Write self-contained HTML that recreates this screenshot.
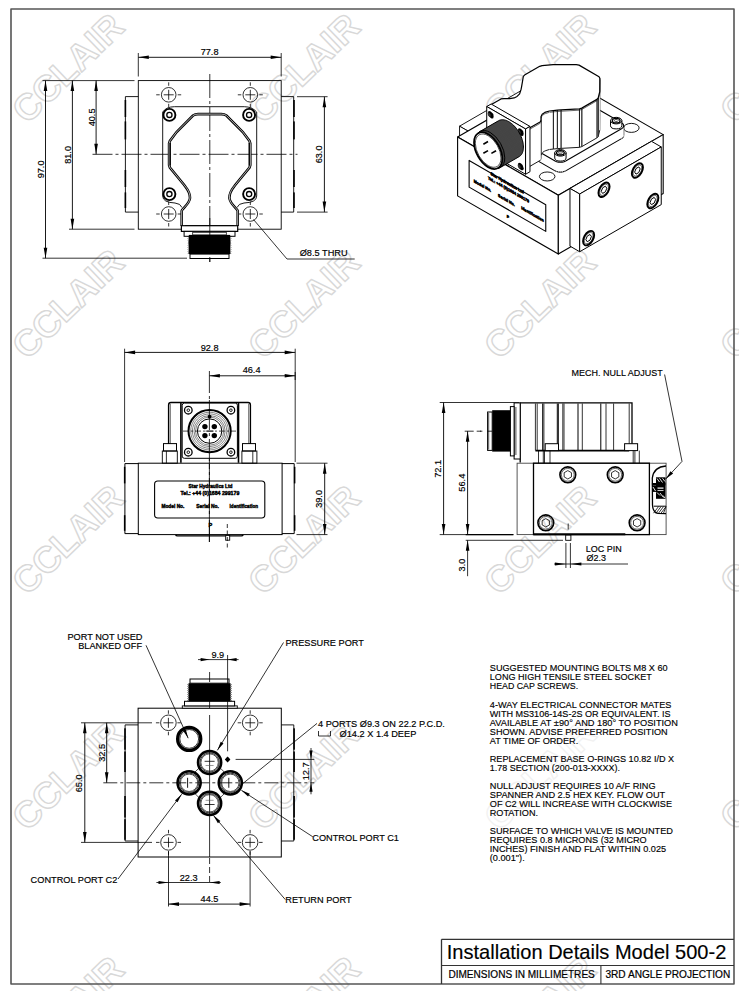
<!DOCTYPE html>
<html><head><meta charset="utf-8"><style>
html,body{margin:0;padding:0;background:#fff;}
svg{display:block;}
text{font-family:"Liberation Sans",sans-serif;}
</style></head><body>
<svg width="739" height="991" viewBox="0 0 739 991">
<defs><pattern id="knurl" width="1.7" height="1.7" patternUnits="userSpaceOnUse" patternTransform="rotate(30)"><rect width="1.7" height="1.7" fill="#0a0a0a"/><circle cx="0.85" cy="0.85" r="0.55" fill="#b0b0b0"/></pattern></defs>
<rect width="739" height="991" fill="#fff"/>
<text x="67.5" y="80.8" font-size="36.5" font-weight="bold" text-anchor="middle" fill="none" stroke="#d8d8d8" stroke-width="1.4" stroke-linejoin="round" transform="rotate(-44 67.5 67.8)">CCLAIR</text>
<text x="67.5" y="316.5" font-size="36.5" font-weight="bold" text-anchor="middle" fill="none" stroke="#d8d8d8" stroke-width="1.4" stroke-linejoin="round" transform="rotate(-44 67.5 303.5)">CCLAIR</text>
<text x="67.5" y="552.2" font-size="36.5" font-weight="bold" text-anchor="middle" fill="none" stroke="#d8d8d8" stroke-width="1.4" stroke-linejoin="round" transform="rotate(-44 67.5 539.2)">CCLAIR</text>
<text x="67.5" y="787.9" font-size="36.5" font-weight="bold" text-anchor="middle" fill="none" stroke="#d8d8d8" stroke-width="1.4" stroke-linejoin="round" transform="rotate(-44 67.5 774.9)">CCLAIR</text>
<text x="67.5" y="1023.6" font-size="36.5" font-weight="bold" text-anchor="middle" fill="none" stroke="#d8d8d8" stroke-width="1.4" stroke-linejoin="round" transform="rotate(-44 67.5 1010.6)">CCLAIR</text>
<text x="303.5" y="80.8" font-size="36.5" font-weight="bold" text-anchor="middle" fill="none" stroke="#d8d8d8" stroke-width="1.4" stroke-linejoin="round" transform="rotate(-44 303.5 67.8)">CCLAIR</text>
<text x="303.5" y="316.5" font-size="36.5" font-weight="bold" text-anchor="middle" fill="none" stroke="#d8d8d8" stroke-width="1.4" stroke-linejoin="round" transform="rotate(-44 303.5 303.5)">CCLAIR</text>
<text x="303.5" y="552.2" font-size="36.5" font-weight="bold" text-anchor="middle" fill="none" stroke="#d8d8d8" stroke-width="1.4" stroke-linejoin="round" transform="rotate(-44 303.5 539.2)">CCLAIR</text>
<text x="303.5" y="787.9" font-size="36.5" font-weight="bold" text-anchor="middle" fill="none" stroke="#d8d8d8" stroke-width="1.4" stroke-linejoin="round" transform="rotate(-44 303.5 774.9)">CCLAIR</text>
<text x="303.5" y="1023.6" font-size="36.5" font-weight="bold" text-anchor="middle" fill="none" stroke="#d8d8d8" stroke-width="1.4" stroke-linejoin="round" transform="rotate(-44 303.5 1010.6)">CCLAIR</text>
<text x="539.5" y="80.8" font-size="36.5" font-weight="bold" text-anchor="middle" fill="none" stroke="#d8d8d8" stroke-width="1.4" stroke-linejoin="round" transform="rotate(-44 539.5 67.8)">CCLAIR</text>
<text x="539.5" y="316.5" font-size="36.5" font-weight="bold" text-anchor="middle" fill="none" stroke="#d8d8d8" stroke-width="1.4" stroke-linejoin="round" transform="rotate(-44 539.5 303.5)">CCLAIR</text>
<text x="539.5" y="552.2" font-size="36.5" font-weight="bold" text-anchor="middle" fill="none" stroke="#d8d8d8" stroke-width="1.4" stroke-linejoin="round" transform="rotate(-44 539.5 539.2)">CCLAIR</text>
<text x="539.5" y="787.9" font-size="36.5" font-weight="bold" text-anchor="middle" fill="none" stroke="#d8d8d8" stroke-width="1.4" stroke-linejoin="round" transform="rotate(-44 539.5 774.9)">CCLAIR</text>
<text x="539.5" y="1023.6" font-size="36.5" font-weight="bold" text-anchor="middle" fill="none" stroke="#d8d8d8" stroke-width="1.4" stroke-linejoin="round" transform="rotate(-44 539.5 1010.6)">CCLAIR</text>
<text x="775.5" y="80.8" font-size="36.5" font-weight="bold" text-anchor="middle" fill="none" stroke="#d8d8d8" stroke-width="1.4" stroke-linejoin="round" transform="rotate(-44 775.5 67.8)">CCLAIR</text>
<text x="775.5" y="316.5" font-size="36.5" font-weight="bold" text-anchor="middle" fill="none" stroke="#d8d8d8" stroke-width="1.4" stroke-linejoin="round" transform="rotate(-44 775.5 303.5)">CCLAIR</text>
<text x="775.5" y="552.2" font-size="36.5" font-weight="bold" text-anchor="middle" fill="none" stroke="#d8d8d8" stroke-width="1.4" stroke-linejoin="round" transform="rotate(-44 775.5 539.2)">CCLAIR</text>
<text x="775.5" y="787.9" font-size="36.5" font-weight="bold" text-anchor="middle" fill="none" stroke="#d8d8d8" stroke-width="1.4" stroke-linejoin="round" transform="rotate(-44 775.5 774.9)">CCLAIR</text>
<text x="775.5" y="1023.6" font-size="36.5" font-weight="bold" text-anchor="middle" fill="none" stroke="#d8d8d8" stroke-width="1.4" stroke-linejoin="round" transform="rotate(-44 775.5 1010.6)">CCLAIR</text>
<rect x="480" y="655" width="212" height="215" fill="#fff" fill-opacity="0.65"/>
<polygon points="11,9 734,9 734,984 11,984" fill="none" stroke="#555" stroke-width="1.6" stroke-linejoin="round" />
<line x1="441.5" y1="939.3" x2="734" y2="939.3" stroke="#333" stroke-width="1.3" />
<line x1="441.5" y1="939.3" x2="441.5" y2="984" stroke="#333" stroke-width="1.3" />
<line x1="441.5" y1="965.5" x2="734" y2="965.5" stroke="#333" stroke-width="1.1" />
<line x1="600.9" y1="965.5" x2="600.9" y2="984" stroke="#333" stroke-width="1.1" />
<text x="0" y="0" font-size="20.2" text-anchor="start" font-weight="normal" fill="#000" transform="translate(446.8 958.6)"  textLength="279.5" lengthAdjust="spacingAndGlyphs" stroke="#000" stroke-width="0.15">Installation Details Model 500-2</text>
<text x="0" y="0" font-size="10" text-anchor="start" font-weight="normal" fill="#000" transform="translate(448.4 978)"  textLength="146.4" lengthAdjust="spacingAndGlyphs" stroke="#000" stroke-width="0.2">DIMENSIONS IN MILLIMETRES</text>
<text x="0" y="0" font-size="10" text-anchor="start" font-weight="normal" fill="#000" transform="translate(605.4 978)"  textLength="124.8" lengthAdjust="spacingAndGlyphs" stroke="#000" stroke-width="0.2">3RD ANGLE PROJECTION</text>
<line x1="138.3" y1="53" x2="138.3" y2="76.5" stroke="#000" stroke-width="0.8" />
<line x1="281.2" y1="53" x2="281.2" y2="76.5" stroke="#000" stroke-width="0.8" />
<line x1="138.3" y1="57.3" x2="281.2" y2="57.3" stroke="#000" stroke-width="0.9" />
<polygon points="138.3,57.3 148.8,55.5 148.8,59.1" fill="#000"/>
<polygon points="281.2,57.3 270.7,59.1 270.7,55.5" fill="#000"/>
<text x="0" y="0" font-size="9.89" text-anchor="middle" font-weight="normal" fill="#000" transform="translate(209.6 55) scale(0.93 1)"  stroke="#000" stroke-width="0.18">77.8</text>
<line x1="42.5" y1="80.6" x2="134.5" y2="80.6" stroke="#000" stroke-width="0.8" />
<line x1="69" y1="229.2" x2="134.5" y2="229.2" stroke="#000" stroke-width="0.8" />
<line x1="42.5" y1="258.2" x2="187" y2="258.2" stroke="#000" stroke-width="0.8" />
<line x1="45.5" y1="80.6" x2="45.5" y2="258.2" stroke="#000" stroke-width="0.9" />
<polygon points="45.5,80.6 47.3,91.1 43.7,91.1" fill="#000"/>
<polygon points="45.5,258.2 43.7,247.7 47.3,247.7" fill="#000"/>
<text x="0" y="0" font-size="9.89" text-anchor="middle" font-weight="normal" fill="#000" transform="translate(44.1 169.4) rotate(-90) scale(0.93 1)"  stroke="#000" stroke-width="0.18">97.0</text>
<line x1="72.4" y1="80.6" x2="72.4" y2="229.2" stroke="#000" stroke-width="0.9" />
<polygon points="72.4,80.6 74.2,91.1 70.6,91.1" fill="#000"/>
<polygon points="72.4,229.2 70.6,218.7 74.2,218.7" fill="#000"/>
<text x="0" y="0" font-size="9.89" text-anchor="middle" font-weight="normal" fill="#000" transform="translate(71 154.9) rotate(-90) scale(0.93 1)"  stroke="#000" stroke-width="0.18">81.0</text>
<line x1="96.1" y1="80.6" x2="96.1" y2="154.3" stroke="#000" stroke-width="0.9" />
<polygon points="96.1,80.6 97.9,91.1 94.3,91.1" fill="#000"/>
<polygon points="96.1,154.3 94.3,143.8 97.9,143.8" fill="#000"/>
<text x="0" y="0" font-size="9.89" text-anchor="middle" font-weight="normal" fill="#000" transform="translate(94.8 117.4) rotate(-90) scale(0.93 1)"  stroke="#000" stroke-width="0.18">40.5</text>
<line x1="297" y1="96.7" x2="327.6" y2="96.7" stroke="#000" stroke-width="0.8" />
<line x1="297" y1="212.1" x2="327.6" y2="212.1" stroke="#000" stroke-width="0.8" />
<line x1="324.4" y1="96.7" x2="324.4" y2="212.1" stroke="#000" stroke-width="0.9" />
<polygon points="324.4,96.7 326.2,107.2 322.6,107.2" fill="#000"/>
<polygon points="324.4,212.1 322.6,201.6 326.2,201.6" fill="#000"/>
<text x="0" y="0" font-size="9.89" text-anchor="middle" font-weight="normal" fill="#000" transform="translate(321.5 154.4) rotate(-90) scale(0.93 1)"  stroke="#000" stroke-width="0.18">63.0</text>
<rect x="138.3" y="80.6" width="142.9" height="148.6" rx="0" fill="none" stroke="#000" stroke-width="0.9" />
<polyline points="138.3,96.6 125.4,96.6 125.4,212.1 138.3,212.1" fill="none" stroke="#000" stroke-width="0.9" stroke-linejoin="round" />
<polyline points="281.2,96.6 293.7,96.6 293.7,212.1 281.2,212.1" fill="none" stroke="#000" stroke-width="0.9" stroke-linejoin="round" />
<rect x="124.6" y="100" width="1.6" height="17" fill="#000"/>
<rect x="293.2" y="100" width="1.6" height="17" fill="#000"/>
<rect x="124.6" y="121.4" width="1.6" height="18" fill="#000"/>
<rect x="293.2" y="121.4" width="1.6" height="18" fill="#000"/>
<rect x="124.6" y="170" width="1.6" height="17" fill="#000"/>
<rect x="293.2" y="170" width="1.6" height="17" fill="#000"/>
<rect x="124.6" y="192.4" width="1.6" height="15.6" fill="#000"/>
<rect x="293.2" y="192.4" width="1.6" height="15.6" fill="#000"/>
<line x1="92.5" y1="154.3" x2="297.5" y2="154.3" stroke="#000" stroke-width="0.8" stroke-dasharray="20,3,3,3" />
<line x1="209.8" y1="74" x2="209.8" y2="262" stroke="#000" stroke-width="0.8" stroke-dasharray="24,3,3,3" />
<circle cx="168.7" cy="94.8" r="7.3" fill="none" stroke="#000" stroke-width="0.8"/>
<line x1="163.7" y1="94.8" x2="173.7" y2="94.8" stroke="#000" stroke-width="0.8" />
<line x1="168.7" y1="89.8" x2="168.7" y2="99.8" stroke="#000" stroke-width="0.8" />
<line x1="156.2" y1="94.8" x2="159.7" y2="94.8" stroke="#000" stroke-width="0.8" />
<line x1="177.7" y1="94.8" x2="181.2" y2="94.8" stroke="#000" stroke-width="0.8" />
<line x1="168.7" y1="82.3" x2="168.7" y2="85.8" stroke="#000" stroke-width="0.8" />
<line x1="168.7" y1="103.8" x2="168.7" y2="107.3" stroke="#000" stroke-width="0.8" />
<circle cx="168.7" cy="214" r="7.3" fill="none" stroke="#000" stroke-width="0.8"/>
<line x1="163.7" y1="214" x2="173.7" y2="214" stroke="#000" stroke-width="0.8" />
<line x1="168.7" y1="209" x2="168.7" y2="219" stroke="#000" stroke-width="0.8" />
<line x1="156.2" y1="214" x2="159.7" y2="214" stroke="#000" stroke-width="0.8" />
<line x1="177.7" y1="214" x2="181.2" y2="214" stroke="#000" stroke-width="0.8" />
<line x1="168.7" y1="201.5" x2="168.7" y2="205" stroke="#000" stroke-width="0.8" />
<line x1="168.7" y1="223" x2="168.7" y2="226.5" stroke="#000" stroke-width="0.8" />
<circle cx="250.3" cy="94.8" r="7.3" fill="none" stroke="#000" stroke-width="0.8"/>
<line x1="245.3" y1="94.8" x2="255.3" y2="94.8" stroke="#000" stroke-width="0.8" />
<line x1="250.3" y1="89.8" x2="250.3" y2="99.8" stroke="#000" stroke-width="0.8" />
<line x1="237.8" y1="94.8" x2="241.3" y2="94.8" stroke="#000" stroke-width="0.8" />
<line x1="259.3" y1="94.8" x2="262.8" y2="94.8" stroke="#000" stroke-width="0.8" />
<line x1="250.3" y1="82.3" x2="250.3" y2="85.8" stroke="#000" stroke-width="0.8" />
<line x1="250.3" y1="103.8" x2="250.3" y2="107.3" stroke="#000" stroke-width="0.8" />
<circle cx="250.3" cy="214" r="7.3" fill="none" stroke="#000" stroke-width="0.8"/>
<line x1="245.3" y1="214" x2="255.3" y2="214" stroke="#000" stroke-width="0.8" />
<line x1="250.3" y1="209" x2="250.3" y2="219" stroke="#000" stroke-width="0.8" />
<line x1="237.8" y1="214" x2="241.3" y2="214" stroke="#000" stroke-width="0.8" />
<line x1="259.3" y1="214" x2="262.8" y2="214" stroke="#000" stroke-width="0.8" />
<line x1="250.3" y1="201.5" x2="250.3" y2="205" stroke="#000" stroke-width="0.8" />
<line x1="250.3" y1="223" x2="250.3" y2="226.5" stroke="#000" stroke-width="0.8" />
<path d="M 174.4 106.7 L 244.3 106.7 Q 252 106.7 256.7 112 L 256.7 196 Q 256.7 202.5 244 203 Q 238.5 203.5 237 207.5 M 174.4 106.7 Q 166.5 106.7 162.7 112 L 162.7 196 Q 162.7 202.5 175 203 Q 180.5 203.5 182 207.5" fill="none" stroke="#000" stroke-width="0.9" />
<circle cx="169.4" cy="114.9" r="6" fill="none" stroke="#000" stroke-width="1.9"/>
<circle cx="169.4" cy="114.9" r="2.6" fill="none" stroke="#000" stroke-width="1.3"/>
<circle cx="169.4" cy="194.1" r="6" fill="none" stroke="#000" stroke-width="1.9"/>
<circle cx="169.4" cy="194.1" r="2.6" fill="none" stroke="#000" stroke-width="1.3"/>
<circle cx="249.1" cy="114.9" r="6" fill="none" stroke="#000" stroke-width="1.9"/>
<circle cx="249.1" cy="114.9" r="2.6" fill="none" stroke="#000" stroke-width="1.3"/>
<circle cx="249.1" cy="194.1" r="6" fill="none" stroke="#000" stroke-width="1.9"/>
<circle cx="249.1" cy="194.1" r="2.6" fill="none" stroke="#000" stroke-width="1.3"/>
<path d="M 181.7 226 L 181.7 211 C 181.7 209 189.5 204 190 198 C 190.3 192 186 187.5 184 184.8 L 169.9 167.5 L 169.1 165 L 169.1 143.5 L 169.9 140.9 L 176.6 132 L 193 115.5 Q 195 114.1 198 114.1 L 221.4 114.1 Q 224.4 114.1 226.4 115.5 L 242.8 132 L 249.5 140.9 L 250.3 143.5 L 250.3 165 L 249.5 167.5 L 235.4 184.8 C 233.4 187.5 229.1 192 229.4 198 C 229.9 204 237.7 209 237.7 211 L 237.7 226" fill="none" stroke="#000" stroke-width="2.6" />
<path d="M 181.7 226 L 181.7 211 C 181.7 209 189.5 204 190 198 C 190.3 192 186 187.5 184 184.8 L 169.9 167.5 L 169.1 165 L 169.1 143.5 L 169.9 140.9 L 176.6 132 L 193 115.5 Q 195 114.1 198 114.1 L 221.4 114.1 Q 224.4 114.1 226.4 115.5 L 242.8 132 L 249.5 140.9 L 250.3 143.5 L 250.3 165 L 249.5 167.5 L 235.4 184.8 C 233.4 187.5 229.1 192 229.4 198 C 229.9 204 237.7 209 237.7 211 L 237.7 226" fill="none" stroke="#fff" stroke-width="0.7" />
<line x1="170.3" y1="143" x2="170.3" y2="165.5" stroke="#000" stroke-width="1.2" />
<line x1="249.1" y1="143" x2="249.1" y2="165.5" stroke="#000" stroke-width="1.2" />
<line x1="185.2" y1="225.7" x2="233.9" y2="225.7" stroke="#000" stroke-width="1.6" />
<rect x="181.4" y="225.7" width="56.3" height="5.7" rx="0" fill="#fff" stroke="#000" stroke-width="1.2" />
<rect x="184.1" y="231.4" width="50.9" height="4.9" rx="0" fill="#fff" stroke="#000" stroke-width="1.0" />
<rect x="192.7" y="232.3" width="33.6" height="2.6" rx="0" fill="none" stroke="#000" stroke-width="0.7" />
<rect x="188.9" y="234.9" width="41.2" height="19.2" fill="#000"/>
<path d="M 188.9 235.6 l -0.8 0.9 l 0.8 0.9 M 230.1 235.6 l 0.8 0.9 l -0.8 0.9" stroke="#000" stroke-width="0.6" fill="none"/>
<path d="M 188.9 237.45 l -0.8 0.9 l 0.8 0.9 M 230.1 237.45 l 0.8 0.9 l -0.8 0.9" stroke="#000" stroke-width="0.6" fill="none"/>
<path d="M 188.9 239.3 l -0.8 0.9 l 0.8 0.9 M 230.1 239.3 l 0.8 0.9 l -0.8 0.9" stroke="#000" stroke-width="0.6" fill="none"/>
<path d="M 188.9 241.15 l -0.8 0.9 l 0.8 0.9 M 230.1 241.15 l 0.8 0.9 l -0.8 0.9" stroke="#000" stroke-width="0.6" fill="none"/>
<path d="M 188.9 243 l -0.8 0.9 l 0.8 0.9 M 230.1 243 l 0.8 0.9 l -0.8 0.9" stroke="#000" stroke-width="0.6" fill="none"/>
<path d="M 188.9 244.85 l -0.8 0.9 l 0.8 0.9 M 230.1 244.85 l 0.8 0.9 l -0.8 0.9" stroke="#000" stroke-width="0.6" fill="none"/>
<path d="M 188.9 246.7 l -0.8 0.9 l 0.8 0.9 M 230.1 246.7 l 0.8 0.9 l -0.8 0.9" stroke="#000" stroke-width="0.6" fill="none"/>
<path d="M 188.9 248.55 l -0.8 0.9 l 0.8 0.9 M 230.1 248.55 l 0.8 0.9 l -0.8 0.9" stroke="#000" stroke-width="0.6" fill="none"/>
<path d="M 188.9 250.4 l -0.8 0.9 l 0.8 0.9 M 230.1 250.4 l 0.8 0.9 l -0.8 0.9" stroke="#000" stroke-width="0.6" fill="none"/>
<path d="M 188.9 252.25 l -0.8 0.9 l 0.8 0.9 M 230.1 252.25 l 0.8 0.9 l -0.8 0.9" stroke="#000" stroke-width="0.6" fill="none"/>
<rect x="190" y="254.1" width="39" height="4.4" rx="0" fill="#fff" stroke="#000" stroke-width="1.0" />
<line x1="209.8" y1="218" x2="209.8" y2="262" stroke="#000" stroke-width="0.8" stroke-dasharray="30,3,3,3" />
<line x1="253.5" y1="219.5" x2="287" y2="259" stroke="#000" stroke-width="0.8" />
<line x1="287" y1="259" x2="354.7" y2="259" stroke="#000" stroke-width="0.8" />
<text x="0" y="0" font-size="9.89" text-anchor="start" font-weight="normal" fill="#000" transform="translate(299.7 256.4) scale(0.93 1)"  stroke="#000" stroke-width="0.18">Ø8.5 THRU</text>
<line x1="124.6" y1="348.7" x2="124.6" y2="462" stroke="#000" stroke-width="0.8" />
<line x1="295.2" y1="348.7" x2="295.2" y2="462" stroke="#000" stroke-width="0.8" />
<line x1="124.6" y1="352.4" x2="295.2" y2="352.4" stroke="#000" stroke-width="0.9" />
<polygon points="124.6,352.4 135.1,350.6 135.1,354.2" fill="#000"/>
<polygon points="295.2,352.4 284.7,354.2 284.7,350.6" fill="#000"/>
<text x="0" y="0" font-size="9.89" text-anchor="middle" font-weight="normal" fill="#000" transform="translate(209.6 350.6) scale(0.93 1)"  stroke="#000" stroke-width="0.18">92.8</text>
<line x1="295.2" y1="372" x2="295.2" y2="380" stroke="#000" stroke-width="0.8" />
<line x1="209.4" y1="375.8" x2="295.2" y2="375.8" stroke="#000" stroke-width="0.9" />
<polygon points="209.4,375.8 219.9,374 219.9,377.6" fill="#000"/>
<polygon points="295.2,375.8 284.7,377.6 284.7,374" fill="#000"/>
<text x="0" y="0" font-size="9.89" text-anchor="middle" font-weight="normal" fill="#000" transform="translate(251.6 373.4) scale(0.93 1)"  stroke="#000" stroke-width="0.18">46.4</text>
<line x1="209.4" y1="371" x2="209.4" y2="542" stroke="#000" stroke-width="0.8" stroke-dasharray="22,3,3,3" />
<line x1="296.5" y1="463.2" x2="327.5" y2="463.2" stroke="#000" stroke-width="0.8" />
<line x1="296.5" y1="534.6" x2="327.5" y2="534.6" stroke="#000" stroke-width="0.8" />
<line x1="324.7" y1="463.2" x2="324.7" y2="534.6" stroke="#000" stroke-width="0.9" />
<polygon points="324.7,463.2 326.5,473.7 322.9,473.7" fill="#000"/>
<polygon points="324.7,534.6 322.9,524.1 326.5,524.1" fill="#000"/>
<text x="0" y="0" font-size="9.89" text-anchor="middle" font-weight="normal" fill="#000" transform="translate(321.6 498.9) rotate(-90) scale(0.93 1)"  stroke="#000" stroke-width="0.18">39.0</text>
<rect x="138.3" y="463.2" width="143.8" height="71.4" rx="0" fill="none" stroke="#000" stroke-width="1.0" />
<polyline points="138.3,463.6 124.9,463.6 124.9,533.6 138.3,533.6" fill="none" stroke="#000" stroke-width="1.0" stroke-linejoin="round" />
<polyline points="281.9,463.6 294.2,463.6 294.2,533.6 281.9,533.6" fill="none" stroke="#000" stroke-width="1.0" stroke-linejoin="round" />
<rect x="123.9" y="466.8" width="1.5" height="16.6" fill="#000"/>
<rect x="293.9" y="466.8" width="1.5" height="16.6" fill="#000"/>
<rect x="123.9" y="515.2" width="1.5" height="15.6" fill="#000"/>
<rect x="293.9" y="515.2" width="1.5" height="15.6" fill="#000"/>
<rect x="154.6" y="481" width="110.2" height="37" rx="3.2" fill="none" stroke="#000" stroke-width="1.1" />
<text x="0" y="0" font-size="5.6" text-anchor="start" font-weight="bold" fill="#000" transform="translate(188.6 488)"  textLength="43.9" lengthAdjust="spacingAndGlyphs" stroke="#000" stroke-width="0.45">Star Hydraulics Ltd</text>
<text x="0" y="0" font-size="5.6" text-anchor="start" font-weight="bold" fill="#000" transform="translate(180.5 495.2)"  textLength="58.8" lengthAdjust="spacingAndGlyphs" stroke="#000" stroke-width="0.45">Tel.: +44 (0)1684 299179</text>
<text x="0" y="0" font-size="5.6" text-anchor="start" font-weight="bold" fill="#000" transform="translate(161.4 507.6)"  textLength="23" lengthAdjust="spacingAndGlyphs" stroke="#000" stroke-width="0.45">Model No.</text>
<text x="0" y="0" font-size="5.6" text-anchor="start" font-weight="bold" fill="#000" transform="translate(196.3 507.6)"  textLength="22.7" lengthAdjust="spacingAndGlyphs" stroke="#000" stroke-width="0.45">Serial No.</text>
<text x="0" y="0" font-size="5.6" text-anchor="start" font-weight="bold" fill="#000" transform="translate(229.6 507.6)"  textLength="28.4" lengthAdjust="spacingAndGlyphs" stroke="#000" stroke-width="0.45">Identification</text>
<text x="0" y="0" font-size="5.6" text-anchor="start" font-weight="bold" fill="#000" transform="translate(208.4 527)"  stroke="#000" stroke-width="0.4">P</text>
<path d="M 175.6 534.8 Q 176 535.9 177.5 535.9 L 241.3 535.9 Q 242.8 535.9 243.2 534.8" fill="none" stroke="#000" stroke-width="1.3" />
<rect x="225.7" y="535.4" width="4" height="4.8" rx="0" fill="#fff" stroke="#000" stroke-width="0.9" />
<line x1="227.3" y1="524" x2="227.3" y2="548" stroke="#000" stroke-width="0.8" stroke-dasharray="4,2.5" />
<path d="M 168.6 444 L 168.6 405 Q 168.6 402.5 171 402.5 L 248 402.5 Q 250.4 402.5 250.4 405 L 250.4 444" fill="none" stroke="#000" stroke-width="1.4" />
<line x1="170.4" y1="404" x2="170.4" y2="443.6" stroke="#555" stroke-width="0.8" />
<line x1="248.6" y1="404" x2="248.6" y2="443.6" stroke="#555" stroke-width="0.8" />
<rect x="182.2" y="403.1" width="55.2" height="55.2" rx="2.2" fill="#fff" stroke="#000" stroke-width="1.0" />
<line x1="180.9" y1="403" x2="180.9" y2="462.8" stroke="#000" stroke-width="1.6" />
<line x1="238.5" y1="403" x2="238.5" y2="462.8" stroke="#000" stroke-width="1.6" />
<rect x="163.5" y="443.6" width="13" height="7.4" rx="0" fill="none" stroke="#000" stroke-width="1.0" />
<rect x="242.5" y="443.6" width="13" height="7.4" rx="0" fill="none" stroke="#000" stroke-width="1.0" />
<rect x="162.3" y="451" width="15" height="12.2" rx="0" fill="none" stroke="#000" stroke-width="0.9" />
<line x1="166.4" y1="451" x2="166.4" y2="463.2" stroke="#000" stroke-width="0.8" />
<rect x="241.9" y="451" width="15" height="12.2" rx="0" fill="none" stroke="#000" stroke-width="0.9" />
<line x1="252.8" y1="451" x2="252.8" y2="463.2" stroke="#000" stroke-width="0.8" />
<circle cx="188.3" cy="410.2" r="3.8" fill="none" stroke="#000" stroke-width="1.3"/>
<circle cx="188.3" cy="410.2" r="1.3" fill="none" stroke="#000" stroke-width="0.9"/>
<circle cx="188.3" cy="452.2" r="3.8" fill="none" stroke="#000" stroke-width="1.3"/>
<circle cx="188.3" cy="452.2" r="1.3" fill="none" stroke="#000" stroke-width="0.9"/>
<circle cx="230.9" cy="410.2" r="3.8" fill="none" stroke="#000" stroke-width="1.3"/>
<circle cx="230.9" cy="410.2" r="1.3" fill="none" stroke="#000" stroke-width="0.9"/>
<circle cx="230.9" cy="452.2" r="3.8" fill="none" stroke="#000" stroke-width="1.3"/>
<circle cx="230.9" cy="452.2" r="1.3" fill="none" stroke="#000" stroke-width="0.9"/>
<circle cx="209.6" cy="431.1" r="21.1" fill="none" stroke="#000" stroke-width="2.0"/>
<circle cx="209.6" cy="431.1" r="18.9" fill="none" stroke="#333" stroke-width="0.6"/>
<circle cx="209.6" cy="431.1" r="17.2" fill="none" stroke="#333" stroke-width="0.6"/>
<circle cx="209.6" cy="431.1" r="15.6" fill="none" stroke="#333" stroke-width="0.6"/>
<circle cx="209.6" cy="431.1" r="14.1" fill="none" stroke="#333" stroke-width="0.6"/>
<circle cx="209.6" cy="431.1" r="12.2" fill="#fff" stroke="#000" stroke-width="1.0"/>
<circle cx="204.9" cy="426.6" r="2.7" fill="#000" stroke="#000" stroke-width="0"/>
<circle cx="204.9" cy="435.6" r="2.7" fill="#000" stroke="#000" stroke-width="0"/>
<circle cx="214.3" cy="426.6" r="2.7" fill="#000" stroke="#000" stroke-width="0"/>
<circle cx="214.3" cy="435.6" r="2.7" fill="#000" stroke="#000" stroke-width="0"/>
<circle cx="209.6" cy="416.6" r="1.9" fill="#000" stroke="#000" stroke-width="0"/>
<line x1="183" y1="431.1" x2="236" y2="431.1" stroke="#000" stroke-width="0.7" stroke-dasharray="6,2,2,2" />
<line x1="205.6" y1="431.1" x2="213.6" y2="431.1" stroke="#000" stroke-width="0.8" />
<line x1="209.4" y1="400" x2="209.4" y2="542" stroke="#000" stroke-width="0.8" stroke-dasharray="30,3,3,3" />
<line x1="439.7" y1="402.5" x2="519" y2="402.5" stroke="#000" stroke-width="0.8" />
<line x1="464.7" y1="431.2" x2="481" y2="431.2" stroke="#000" stroke-width="0.8" stroke-dasharray="9,3" />
<line x1="439.7" y1="534.6" x2="513.4" y2="534.6" stroke="#000" stroke-width="0.8" />
<line x1="465.7" y1="534.6" x2="513.4" y2="534.6" stroke="#000" stroke-width="1.4" />
<line x1="465.7" y1="540.3" x2="563" y2="540.3" stroke="#000" stroke-width="0.8" />
<line x1="443.6" y1="402.5" x2="443.6" y2="534.6" stroke="#000" stroke-width="0.9" />
<polygon points="443.6,402.5 445.4,413 441.8,413" fill="#000"/>
<polygon points="443.6,534.6 441.8,524.1 445.4,524.1" fill="#000"/>
<text x="0" y="0" font-size="9.89" text-anchor="middle" font-weight="normal" fill="#000" transform="translate(441.1 468.9) rotate(-90) scale(0.93 1)"  stroke="#000" stroke-width="0.18">72.1</text>
<line x1="467.6" y1="431.2" x2="467.6" y2="534.6" stroke="#000" stroke-width="0.9" />
<polygon points="467.6,431.2 469.4,441.7 465.8,441.7" fill="#000"/>
<polygon points="467.6,534.6 465.8,524.1 469.4,524.1" fill="#000"/>
<text x="0" y="0" font-size="9.89" text-anchor="middle" font-weight="normal" fill="#000" transform="translate(465.3 482.7) rotate(-90) scale(0.93 1)"  stroke="#000" stroke-width="0.18">56.4</text>
<line x1="467.6" y1="540.3" x2="467.6" y2="576.2" stroke="#000" stroke-width="0.8" />
<polygon points="467.6,540.3 469.4,550.8 465.8,550.8" fill="#000"/>
<text x="0" y="0" font-size="9.89" text-anchor="middle" font-weight="normal" fill="#000" transform="translate(464.5 565) rotate(-90) scale(0.93 1)"  stroke="#000" stroke-width="0.18">3.0</text>
<rect x="565.7" y="534.9" width="5.2" height="5.4" rx="0" fill="#fff" stroke="#000" stroke-width="0.9" />
<line x1="565.9" y1="543" x2="565.9" y2="568" stroke="#000" stroke-width="0.8" />
<line x1="570.4" y1="543" x2="570.4" y2="568" stroke="#000" stroke-width="0.8" />
<line x1="554.2" y1="564" x2="628" y2="564" stroke="#000" stroke-width="0.8" />
<polygon points="565.9,564 554.9,565.6 554.9,562.4" fill="#000"/>
<polygon points="570.4,564 581.4,562.4 581.4,565.6" fill="#000"/>
<line x1="568.2" y1="523.5" x2="568.2" y2="529.5" stroke="#000" stroke-width="0.8" />
<text x="0" y="0" font-size="9.68" text-anchor="start" font-weight="normal" fill="#000" transform="translate(585.7 551.8) scale(0.93 1)"  stroke="#000" stroke-width="0.18">LOC PIN</text>
<text x="0" y="0" font-size="9.68" text-anchor="start" font-weight="normal" fill="#000" transform="translate(586.5 561.3) scale(0.93 1)"  stroke="#000" stroke-width="0.18">Ø2.3</text>
<rect x="517.1" y="463.2" width="149" height="71.4" rx="0" fill="none" stroke="#444" stroke-width="0.9" />
<rect x="533.5" y="463.2" width="115.9" height="71.4" rx="0" fill="none" stroke="#000" stroke-width="1.3" />
<line x1="533.5" y1="534.2" x2="625.3" y2="534.2" stroke="#000" stroke-width="2.0" />
<circle cx="567.8" cy="474.8" r="7.9" fill="none" stroke="#000" stroke-width="1.6"/>
<circle cx="567.8" cy="474.8" r="6.4" fill="none" stroke="#000" stroke-width="0.6"/>
<polygon points="571.44,476.9 567.8,479 564.16,476.9 564.16,472.7 567.8,470.6 571.44,472.7" fill="none" stroke="#000" stroke-width="0.8" stroke-linejoin="round" />
<circle cx="615.2" cy="474.8" r="7.9" fill="none" stroke="#000" stroke-width="1.6"/>
<circle cx="615.2" cy="474.8" r="6.4" fill="none" stroke="#000" stroke-width="0.6"/>
<polygon points="618.84,476.9 615.2,479 611.56,476.9 611.56,472.7 615.2,470.6 618.84,472.7" fill="none" stroke="#000" stroke-width="0.8" stroke-linejoin="round" />
<circle cx="545.8" cy="522.8" r="7.9" fill="none" stroke="#000" stroke-width="1.6"/>
<circle cx="545.8" cy="522.8" r="6.4" fill="none" stroke="#000" stroke-width="0.6"/>
<polygon points="549.44,524.9 545.8,527 542.16,524.9 542.16,520.7 545.8,518.6 549.44,520.7" fill="none" stroke="#000" stroke-width="0.8" stroke-linejoin="round" />
<circle cx="637.1" cy="522.8" r="7.9" fill="none" stroke="#000" stroke-width="1.6"/>
<circle cx="637.1" cy="522.8" r="6.4" fill="none" stroke="#000" stroke-width="0.6"/>
<polygon points="640.74,524.9 637.1,527 633.46,524.9 633.46,520.7 637.1,518.6 640.74,520.7" fill="none" stroke="#000" stroke-width="0.8" stroke-linejoin="round" />
<path d="M 666 466 C 659 466.5 653.5 469.5 652.3 478 L 652.5 505 C 652.8 510 654.5 512.8 658 513.4 L 666 513.6" fill="none" stroke="#000" stroke-width="1.3" />
<rect x="656" y="477.3" width="9.5" height="21.5" fill="#000"/>
<rect x="651.9" y="483" width="13.5" height="2.4" fill="#000"/>
<rect x="652.4" y="485.4" width="4" height="6.5" fill="#000"/>
<line x1="657" y1="478.5" x2="659.5" y2="482" stroke="#fff" stroke-width="0.9" />
<line x1="659.5" y1="478.3" x2="662.5" y2="482.5" stroke="#fff" stroke-width="0.9" />
<line x1="662.5" y1="478.3" x2="665" y2="481.5" stroke="#fff" stroke-width="0.9" />
<line x1="653" y1="487" x2="655.5" y2="491" stroke="#fff" stroke-width="0.9" />
<line x1="657" y1="492.5" x2="660" y2="495.5" stroke="#fff" stroke-width="0.9" />
<line x1="660" y1="493" x2="663.5" y2="497.5" stroke="#fff" stroke-width="0.9" />
<line x1="663" y1="495.5" x2="665" y2="498" stroke="#fff" stroke-width="0.9" />
<rect x="657.5" y="487.5" width="6" height="1.2" fill="#fff"/>
<rect x="657.5" y="490.2" width="6" height="0.8" fill="#fff"/>
<line x1="653.8" y1="506.2" x2="666" y2="506.2" stroke="#000" stroke-width="1.0" />
<line x1="653.5" y1="513.2" x2="658.5" y2="506.6" stroke="#000" stroke-width="0.8" />
<line x1="656" y1="513.2" x2="661" y2="506.6" stroke="#000" stroke-width="0.8" />
<line x1="658.5" y1="513.2" x2="663.5" y2="506.6" stroke="#000" stroke-width="0.8" />
<line x1="661" y1="513.2" x2="666" y2="506.6" stroke="#000" stroke-width="0.8" />
<line x1="663.5" y1="513.2" x2="666" y2="506.6" stroke="#000" stroke-width="0.8" />
<line x1="664.6" y1="374.5" x2="682" y2="461.4" stroke="#000" stroke-width="0.8" />
<line x1="682" y1="461.4" x2="665.7" y2="479" stroke="#000" stroke-width="0.8" />
<polygon points="665.7,479 670.49,471.17 673.14,473.62" fill="#000"/>
<text x="0" y="0" font-size="9.68" text-anchor="start" font-weight="normal" fill="#000" transform="translate(571.6 376.2) scale(0.93 1)"  stroke="#000" stroke-width="0.18">MECH. NULL ADJUST</text>
<path d="M 520.2 462.6 L 520.2 402.9 L 632 402.9 L 632 444" fill="none" stroke="#000" stroke-width="1.3" />
<line x1="535.4" y1="403.5" x2="535.4" y2="450.4" stroke="#000" stroke-width="0.8" />
<line x1="537.2" y1="403.5" x2="537.2" y2="450.4" stroke="#000" stroke-width="0.8" />
<line x1="542.7" y1="403.5" x2="542.7" y2="450.4" stroke="#000" stroke-width="1.0" />
<line x1="543.9" y1="403.5" x2="543.9" y2="450.4" stroke="#000" stroke-width="0.8" />
<line x1="557.3" y1="403.5" x2="557.3" y2="450.4" stroke="#000" stroke-width="1.0" />
<line x1="558.5" y1="403.5" x2="558.5" y2="450.4" stroke="#000" stroke-width="0.8" />
<line x1="562.8" y1="403.5" x2="562.8" y2="450.4" stroke="#000" stroke-width="0.8" />
<line x1="564" y1="403.5" x2="564" y2="450.4" stroke="#000" stroke-width="0.8" />
<line x1="578" y1="403.5" x2="578" y2="450.4" stroke="#000" stroke-width="1.0" />
<line x1="582.3" y1="403.5" x2="582.3" y2="450.4" stroke="#000" stroke-width="0.8" />
<line x1="600.8" y1="403.5" x2="600.8" y2="450.4" stroke="#000" stroke-width="1.0" />
<line x1="606" y1="403.5" x2="606" y2="450.4" stroke="#000" stroke-width="0.8" />
<line x1="613.6" y1="403.5" x2="613.6" y2="450.4" stroke="#000" stroke-width="0.8" />
<line x1="629.2" y1="403.5" x2="629.2" y2="450.4" stroke="#000" stroke-width="0.8" />
<line x1="535.4" y1="450.6" x2="629.2" y2="450.6" stroke="#000" stroke-width="1.8" />
<rect x="545.2" y="443.7" width="13.3" height="6.9" rx="0" fill="#fff" stroke="#000" stroke-width="1.0" />
<rect x="624.6" y="443.7" width="13" height="6.9" rx="0" fill="#fff" stroke="#000" stroke-width="1.0" />
<line x1="538.5" y1="450.6" x2="538.5" y2="463.2" stroke="#000" stroke-width="0.8" />
<line x1="543.3" y1="450.6" x2="543.3" y2="463.2" stroke="#000" stroke-width="0.8" />
<line x1="544.5" y1="450.6" x2="544.5" y2="463.2" stroke="#000" stroke-width="0.8" />
<line x1="550" y1="450.6" x2="550" y2="463.2" stroke="#000" stroke-width="0.8" />
<line x1="633.2" y1="450.6" x2="633.2" y2="463.2" stroke="#000" stroke-width="0.8" />
<line x1="634.9" y1="450.6" x2="634.9" y2="463.2" stroke="#000" stroke-width="0.8" />
<line x1="639.3" y1="450.6" x2="639.3" y2="463.2" stroke="#000" stroke-width="0.8" />
<rect x="514.1" y="402.9" width="6.1" height="56.1" rx="0" fill="#fff" stroke="#000" stroke-width="1.0" />
<line x1="515.9" y1="407" x2="515.9" y2="455" stroke="#000" stroke-width="0.7" />
<rect x="510.4" y="406.6" width="3.7" height="49.3" rx="0" fill="#fff" stroke="#000" stroke-width="1.0" />
<rect x="492.2" y="410.2" width="18.2" height="41.4" fill="#000"/>
<rect x="487.6" y="412" width="4.6" height="38.4" rx="0" fill="#fff" stroke="#000" stroke-width="1.0" />
<line x1="488.7" y1="413" x2="488.7" y2="449.5" stroke="#000" stroke-width="0.6" />
<line x1="480" y1="431.2" x2="482.4" y2="431.2" stroke="#000" stroke-width="0.8" />
<line x1="487.6" y1="431.2" x2="492.2" y2="431.2" stroke="#000" stroke-width="0.8" />
<rect x="138.1" y="708.2" width="143.2" height="148.8" rx="0" fill="none" stroke="#000" stroke-width="1.0" />
<polyline points="138.1,724.9 125.1,724.9 125.1,841 138.1,841" fill="none" stroke="#000" stroke-width="0.9" stroke-linejoin="round" />
<polyline points="281.3,724.9 293.8,724.9 293.8,841 281.3,841" fill="none" stroke="#000" stroke-width="0.9" stroke-linejoin="round" />
<rect x="124.2" y="728.3" width="1.6" height="21.4" fill="#000"/>
<rect x="293.3" y="728.3" width="1.6" height="21.4" fill="#000"/>
<rect x="124.2" y="751.5" width="1.6" height="20.5" fill="#000"/>
<rect x="293.3" y="751.5" width="1.6" height="20.5" fill="#000"/>
<rect x="124.2" y="796" width="1.6" height="21.5" fill="#000"/>
<rect x="293.3" y="796" width="1.6" height="21.5" fill="#000"/>
<rect x="124.2" y="819.2" width="1.6" height="20.6" fill="#000"/>
<rect x="293.3" y="819.2" width="1.6" height="20.6" fill="#000"/>
<rect x="182.3" y="705.9" width="55" height="2.3" rx="0" fill="#fff" stroke="#000" stroke-width="0.9" />
<rect x="184.5" y="701.3" width="50.1" height="4.6" rx="0" fill="#fff" stroke="#000" stroke-width="1.0" />
<rect x="188.6" y="683.2" width="41.9" height="18.1" fill="#000"/>
<path d="M 188.6 683.8 l -0.8 0.95 l 0.8 0.95 M 230.5 683.8 l 0.8 0.95 l -0.8 0.95" stroke="#000" stroke-width="0.6" fill="none"/>
<path d="M 188.6 685.75 l -0.8 0.95 l 0.8 0.95 M 230.5 685.75 l 0.8 0.95 l -0.8 0.95" stroke="#000" stroke-width="0.6" fill="none"/>
<path d="M 188.6 687.7 l -0.8 0.95 l 0.8 0.95 M 230.5 687.7 l 0.8 0.95 l -0.8 0.95" stroke="#000" stroke-width="0.6" fill="none"/>
<path d="M 188.6 689.65 l -0.8 0.95 l 0.8 0.95 M 230.5 689.65 l 0.8 0.95 l -0.8 0.95" stroke="#000" stroke-width="0.6" fill="none"/>
<path d="M 188.6 691.6 l -0.8 0.95 l 0.8 0.95 M 230.5 691.6 l 0.8 0.95 l -0.8 0.95" stroke="#000" stroke-width="0.6" fill="none"/>
<path d="M 188.6 693.55 l -0.8 0.95 l 0.8 0.95 M 230.5 693.55 l 0.8 0.95 l -0.8 0.95" stroke="#000" stroke-width="0.6" fill="none"/>
<path d="M 188.6 695.5 l -0.8 0.95 l 0.8 0.95 M 230.5 695.5 l 0.8 0.95 l -0.8 0.95" stroke="#000" stroke-width="0.6" fill="none"/>
<path d="M 188.6 697.45 l -0.8 0.95 l 0.8 0.95 M 230.5 697.45 l 0.8 0.95 l -0.8 0.95" stroke="#000" stroke-width="0.6" fill="none"/>
<path d="M 188.6 699.4 l -0.8 0.95 l 0.8 0.95 M 230.5 699.4 l 0.8 0.95 l -0.8 0.95" stroke="#000" stroke-width="0.6" fill="none"/>
<rect x="190" y="679" width="39" height="4.2" rx="0" fill="#fff" stroke="#000" stroke-width="1.0" />
<line x1="81" y1="722.8" x2="152" y2="722.8" stroke="#000" stroke-width="0.8" />
<line x1="81" y1="842.4" x2="152" y2="842.4" stroke="#000" stroke-width="0.8" />
<line x1="84.8" y1="722.8" x2="84.8" y2="842.4" stroke="#000" stroke-width="0.9" />
<polygon points="84.8,722.8 86.6,733.3 83,733.3" fill="#000"/>
<polygon points="84.8,842.4 83,831.9 86.6,831.9" fill="#000"/>
<text x="0" y="0" font-size="9.89" text-anchor="middle" font-weight="normal" fill="#000" transform="translate(82 783.3) rotate(-90) scale(0.93 1)"  stroke="#000" stroke-width="0.18">65.0</text>
<line x1="106.7" y1="722.8" x2="106.7" y2="782.8" stroke="#000" stroke-width="0.9" />
<polygon points="106.7,722.8 108.5,733.3 104.9,733.3" fill="#000"/>
<polygon points="106.7,782.8 104.9,772.3 108.5,772.3" fill="#000"/>
<text x="0" y="0" font-size="9.89" text-anchor="middle" font-weight="normal" fill="#000" transform="translate(104.9 752.9) rotate(-90) scale(0.93 1)"  stroke="#000" stroke-width="0.18">32.5</text>
<line x1="103.3" y1="782.8" x2="314.3" y2="782.8" stroke="#000" stroke-width="0.8" stroke-dasharray="14,3,3,3" />
<line x1="209.6" y1="715" x2="209.6" y2="857" stroke="#000" stroke-width="0.8" />
<line x1="209.6" y1="858" x2="209.6" y2="884" stroke="#000" stroke-width="0.8" stroke-dasharray="6,3" />
<line x1="209.6" y1="672" x2="209.6" y2="708" stroke="#000" stroke-width="0.8" stroke-dasharray="10,3" />
<line x1="227.6" y1="655" x2="227.6" y2="751.3" stroke="#000" stroke-width="0.8" />
<line x1="198" y1="659.6" x2="238.6" y2="659.6" stroke="#000" stroke-width="0.8" />
<polygon points="209.6,659.6 200.6,661.2 200.6,658" fill="#000"/>
<polygon points="227.6,659.6 236.6,658 236.6,661.2" fill="#000"/>
<text x="0" y="0" font-size="9.89" text-anchor="middle" font-weight="normal" fill="#000" transform="translate(217.8 657.5) scale(0.93 1)"  stroke="#000" stroke-width="0.18">9.9</text>
<line x1="235.6" y1="759.4" x2="314.3" y2="759.4" stroke="#000" stroke-width="0.8" />
<line x1="311" y1="748" x2="311" y2="794.3" stroke="#000" stroke-width="0.8" />
<polygon points="311,759.4 309.4,750.4 312.6,750.4" fill="#000"/>
<polygon points="311,782.8 312.6,791.8 309.4,791.8" fill="#000"/>
<text x="0" y="0" font-size="9.89" text-anchor="middle" font-weight="normal" fill="#000" transform="translate(309.1 771.3) rotate(-90) scale(0.93 1)"  stroke="#000" stroke-width="0.18">12.7</text>
<polygon points="227.6,756.4 230.4,759.4 227.6,762.4 224.8,759.4" fill="#000"/>
<circle cx="227.6" cy="759.4" r="1.8" fill="#000" stroke="#000" stroke-width="0"/>
<line x1="168.5" y1="851" x2="168.5" y2="906.5" stroke="#000" stroke-width="0.8" />
<line x1="250.1" y1="851" x2="250.1" y2="906.5" stroke="#000" stroke-width="0.8" />
<line x1="156.4" y1="882.5" x2="220.8" y2="882.5" stroke="#000" stroke-width="0.8" />
<polygon points="168.5,882.5 158.5,884.1 158.5,880.9" fill="#000"/>
<polygon points="209.6,882.5 219.6,880.9 219.6,884.1" fill="#000"/>
<text x="0" y="0" font-size="9.89" text-anchor="middle" font-weight="normal" fill="#000" transform="translate(188.7 880.6) scale(0.93 1)"  stroke="#000" stroke-width="0.18">22.3</text>
<line x1="168.5" y1="904.1" x2="250.1" y2="904.1" stroke="#000" stroke-width="0.9" />
<polygon points="168.5,904.1 179,902.3 179,905.9" fill="#000"/>
<polygon points="250.1,904.1 239.6,905.9 239.6,902.3" fill="#000"/>
<text x="0" y="0" font-size="9.89" text-anchor="middle" font-weight="normal" fill="#000" transform="translate(209.5 902.2) scale(0.93 1)"  stroke="#000" stroke-width="0.18">44.5</text>
<circle cx="168.4" cy="722.8" r="7.8" fill="none" stroke="#000" stroke-width="0.8"/>
<line x1="163.4" y1="722.8" x2="173.4" y2="722.8" stroke="#000" stroke-width="0.8" />
<line x1="168.4" y1="717.8" x2="168.4" y2="727.8" stroke="#000" stroke-width="0.8" />
<line x1="155.9" y1="722.8" x2="159.4" y2="722.8" stroke="#000" stroke-width="0.8" />
<line x1="177.4" y1="722.8" x2="180.9" y2="722.8" stroke="#000" stroke-width="0.8" />
<line x1="168.4" y1="710.3" x2="168.4" y2="713.8" stroke="#000" stroke-width="0.8" />
<line x1="168.4" y1="731.8" x2="168.4" y2="735.3" stroke="#000" stroke-width="0.8" />
<circle cx="250.2" cy="722.8" r="7.8" fill="none" stroke="#000" stroke-width="0.8"/>
<line x1="245.2" y1="722.8" x2="255.2" y2="722.8" stroke="#000" stroke-width="0.8" />
<line x1="250.2" y1="717.8" x2="250.2" y2="727.8" stroke="#000" stroke-width="0.8" />
<line x1="237.7" y1="722.8" x2="241.2" y2="722.8" stroke="#000" stroke-width="0.8" />
<line x1="259.2" y1="722.8" x2="262.7" y2="722.8" stroke="#000" stroke-width="0.8" />
<line x1="250.2" y1="710.3" x2="250.2" y2="713.8" stroke="#000" stroke-width="0.8" />
<line x1="250.2" y1="731.8" x2="250.2" y2="735.3" stroke="#000" stroke-width="0.8" />
<circle cx="168.5" cy="842.4" r="7.8" fill="none" stroke="#000" stroke-width="0.8"/>
<line x1="163.5" y1="842.4" x2="173.5" y2="842.4" stroke="#000" stroke-width="0.8" />
<line x1="168.5" y1="837.4" x2="168.5" y2="847.4" stroke="#000" stroke-width="0.8" />
<line x1="156" y1="842.4" x2="159.5" y2="842.4" stroke="#000" stroke-width="0.8" />
<line x1="177.5" y1="842.4" x2="181" y2="842.4" stroke="#000" stroke-width="0.8" />
<line x1="168.5" y1="829.9" x2="168.5" y2="833.4" stroke="#000" stroke-width="0.8" />
<line x1="168.5" y1="851.4" x2="168.5" y2="854.9" stroke="#000" stroke-width="0.8" />
<circle cx="250.1" cy="842.4" r="7.8" fill="none" stroke="#000" stroke-width="0.8"/>
<line x1="245.1" y1="842.4" x2="255.1" y2="842.4" stroke="#000" stroke-width="0.8" />
<line x1="250.1" y1="837.4" x2="250.1" y2="847.4" stroke="#000" stroke-width="0.8" />
<line x1="237.6" y1="842.4" x2="241.1" y2="842.4" stroke="#000" stroke-width="0.8" />
<line x1="259.1" y1="842.4" x2="262.6" y2="842.4" stroke="#000" stroke-width="0.8" />
<line x1="250.1" y1="829.9" x2="250.1" y2="833.4" stroke="#000" stroke-width="0.8" />
<line x1="250.1" y1="851.4" x2="250.1" y2="854.9" stroke="#000" stroke-width="0.8" />
<line x1="198.99" y1="768.08" x2="194.73" y2="772.3" stroke="#000" stroke-width="0.7" />
<line x1="220.31" y1="768.1" x2="224.59" y2="772.3" stroke="#000" stroke-width="0.7" />
<line x1="199" y1="797.65" x2="194.75" y2="793.4" stroke="#000" stroke-width="0.7" />
<line x1="220.31" y1="797.62" x2="224.57" y2="793.4" stroke="#000" stroke-width="0.7" />
<circle cx="209.6" cy="762.5" r="11.6" fill="none" stroke="#000" stroke-width="2.5"/>
<circle cx="209.6" cy="762.5" r="9.7" fill="none" stroke="#000" stroke-width="0.8"/>
<circle cx="209.6" cy="762.5" r="8.7" fill="none" stroke="#000" stroke-width="0.7"/>
<line x1="204.6" y1="761.3" x2="214.6" y2="761.3" stroke="#000" stroke-width="0.8" />
<line x1="205.6" y1="765.5" x2="213.6" y2="765.5" stroke="#555" stroke-width="0.6" />
<circle cx="189.1" cy="782.8" r="11.6" fill="none" stroke="#000" stroke-width="2.5"/>
<circle cx="189.1" cy="782.8" r="9.7" fill="none" stroke="#000" stroke-width="0.8"/>
<circle cx="189.1" cy="782.8" r="8.7" fill="none" stroke="#000" stroke-width="0.7"/>
<line x1="187.6" y1="777.8" x2="187.6" y2="787.8" stroke="#000" stroke-width="0.9" />
<circle cx="230.3" cy="782.8" r="11.6" fill="none" stroke="#000" stroke-width="2.5"/>
<circle cx="230.3" cy="782.8" r="9.7" fill="none" stroke="#000" stroke-width="0.8"/>
<circle cx="230.3" cy="782.8" r="8.7" fill="none" stroke="#000" stroke-width="0.7"/>
<line x1="228.8" y1="777.8" x2="228.8" y2="787.8" stroke="#000" stroke-width="0.9" />
<circle cx="209.6" cy="803.3" r="11.6" fill="none" stroke="#000" stroke-width="2.5"/>
<circle cx="209.6" cy="803.3" r="9.7" fill="none" stroke="#000" stroke-width="0.8"/>
<circle cx="209.6" cy="803.3" r="8.7" fill="none" stroke="#000" stroke-width="0.7"/>
<line x1="204.6" y1="804.5" x2="214.6" y2="804.5" stroke="#000" stroke-width="0.8" />
<line x1="205.6" y1="800.3" x2="213.6" y2="800.3" stroke="#555" stroke-width="0.6" />
<circle cx="189.2" cy="738.9" r="11.6" fill="none" stroke="#000" stroke-width="3.2"/>
<circle cx="189.2" cy="738.9" r="9.4" fill="none" stroke="#000" stroke-width="0.8"/>
<text x="0" y="0" font-size="9.89" text-anchor="end" font-weight="normal" fill="#000" transform="translate(142.5 639.9) scale(0.93 1)"  stroke="#000" stroke-width="0.18">PORT NOT USED</text>
<text x="0" y="0" font-size="9.89" text-anchor="end" font-weight="normal" fill="#000" transform="translate(142 648.8) scale(0.93 1)"  stroke="#000" stroke-width="0.18">BLANKED OFF</text>
<line x1="146" y1="645.3" x2="188.2" y2="738.2" stroke="#000" stroke-width="0.8" />
<polygon points="188.2,738.2 183.11,730.63 185.84,729.39" fill="#000"/>
<text x="0" y="0" font-size="9.89" text-anchor="start" font-weight="normal" fill="#000" transform="translate(285.4 645.6) scale(0.93 1)"  stroke="#000" stroke-width="0.18">PRESSURE PORT</text>
<line x1="283.5" y1="642.5" x2="217.4" y2="750.3" stroke="#000" stroke-width="0.8" />
<polygon points="217.4,750.3 220.74,741.79 223.47,743.46" fill="#000"/>
<text x="0" y="0" font-size="9.89" text-anchor="start" font-weight="normal" fill="#000" transform="translate(318 727.4) scale(0.93 1)"  stroke="#000" stroke-width="0.18">4 PORTS  Ø9.3 ON 22.2 P.C.D.</text>
<text x="0" y="0" font-size="9.89" text-anchor="start" font-weight="normal" fill="#000" transform="translate(339.6 736.8) scale(0.93 1)"  stroke="#000" stroke-width="0.18">Ø14.2 X 1.4 DEEP</text>
<polyline points="318.5,731 318.5,736 330.5,736 330.5,731" fill="none" stroke="#000" stroke-width="0.8" stroke-linejoin="round" />
<line x1="317" y1="723.4" x2="242.9" y2="783.5" stroke="#000" stroke-width="0.8" />
<text x="0" y="0" font-size="9.89" text-anchor="start" font-weight="normal" fill="#000" transform="translate(312.3 840.6) scale(0.93 1)"  stroke="#000" stroke-width="0.18">CONTROL PORT C1</text>
<line x1="312.8" y1="836.8" x2="241.4" y2="790.3" stroke="#000" stroke-width="0.8" />
<polygon points="241.4,790.3 249.81,793.87 248.07,796.55" fill="#000"/>
<text x="0" y="0" font-size="9.89" text-anchor="start" font-weight="normal" fill="#000" transform="translate(30.6 882.5) scale(0.93 1)"  stroke="#000" stroke-width="0.18">CONTROL PORT C2</text>
<line x1="118" y1="879" x2="181.7" y2="794.2" stroke="#000" stroke-width="0.8" />
<polygon points="181.7,794.2 177.57,802.36 175.02,800.43" fill="#000"/>
<text x="0" y="0" font-size="9.89" text-anchor="start" font-weight="normal" fill="#000" transform="translate(285.3 903.4) scale(0.93 1)"  stroke="#000" stroke-width="0.18">RETURN PORT</text>
<line x1="285.3" y1="899.6" x2="213.3" y2="815.3" stroke="#000" stroke-width="0.8" />
<polygon points="213.3,815.3 220.36,821.1 217.93,823.18" fill="#000"/>
<polygon points="459.54,126.18 469.25,131.78 550.81,84.69 541.1,79.08" fill="#fff" stroke="#000" stroke-width="0.9" stroke-linejoin="round" />
<polygon points="459.54,182.35 469.25,187.95 469.25,131.78 459.54,126.18" fill="#fff" stroke="#000" stroke-width="0.9" stroke-linejoin="round" />
<polygon points="469.25,187.95 550.81,140.86 550.81,84.69 469.25,131.78" fill="#fff" stroke="#000" stroke-width="0.9" stroke-linejoin="round" />
<polygon points="457.6,137 558.32,195.16 663.18,134.61 562.46,76.45" fill="#fff" stroke="#000" stroke-width="1.1" stroke-linejoin="round" />
<polygon points="457.6,195.89 558.32,254.05 558.32,195.16 457.6,137" fill="#fff" stroke="#000" stroke-width="1.1" stroke-linejoin="round" />
<polygon points="558.32,254.05 663.18,193.5 663.18,134.61 558.32,195.16" fill="#fff" stroke="#000" stroke-width="1.1" stroke-linejoin="round" />
<polygon points="569.97,188.43 579.68,194.03 661.24,146.94 651.53,141.34" fill="#fff" stroke="#000" stroke-width="1.0" stroke-linejoin="round" />
<polygon points="569.97,246.11 579.68,251.72 579.68,194.03 569.97,188.43" fill="#fff" stroke="#000" stroke-width="1.0" stroke-linejoin="round" />
<polygon points="579.68,251.72 661.24,204.62 661.24,146.94 579.68,194.03" fill="#fff" stroke="#000" stroke-width="1.0" stroke-linejoin="round" />
<ellipse cx="0" cy="0" rx="1" ry="1" transform="matrix(5.5,3.18,5.5,-3.18,547.19,176.47)" fill="none" stroke="#000" stroke-width="0.9" vector-effect="non-scaling-stroke" />
<ellipse cx="0" cy="0" rx="1" ry="1" transform="matrix(5.5,3.18,5.5,-3.18,631.34,127.88)" fill="none" stroke="#000" stroke-width="0.9" vector-effect="non-scaling-stroke" />
<polygon points="496.96,135.5 497.21,136.63 497.21,126.81 496.96,125.69" fill="#fff" stroke="#fff" stroke-width="0.4"/>
<line x1="496.96" y1="135.5" x2="497.21" y2="136.63" stroke="#000" stroke-width="1.1" />
<line x1="496.96" y1="135.5" x2="496.96" y2="125.69" stroke="#000" stroke-width="1.1" />
<polygon points="623.44,136.7 623.69,135.58 623.69,125.76 623.44,126.89" fill="#fff" stroke="#fff" stroke-width="0.4"/>
<line x1="623.44" y1="136.7" x2="623.69" y2="135.58" stroke="#000" stroke-width="1.1" />
<line x1="623.69" y1="135.58" x2="623.69" y2="125.76" stroke="#000" stroke-width="1.1" />
<polygon points="497.21,136.63 497.96,137.67 497.96,127.86 497.21,126.81" fill="#fff" stroke="#fff" stroke-width="0.4"/>
<line x1="497.21" y1="136.63" x2="497.96" y2="137.67" stroke="#000" stroke-width="1.1" />
<polygon points="622.69,137.75 623.44,136.7 623.44,126.89 622.69,127.93" fill="#fff" stroke="#fff" stroke-width="0.4"/>
<line x1="622.69" y1="137.75" x2="623.44" y2="136.7" stroke="#000" stroke-width="1.1" />
<polygon points="497.96,137.67 499.16,138.57 499.16,128.75 497.96,127.86" fill="#fff" stroke="#fff" stroke-width="0.4"/>
<line x1="497.96" y1="137.67" x2="499.16" y2="138.57" stroke="#000" stroke-width="1.1" />
<polygon points="621.5,138.64 622.69,137.75 622.69,127.93 621.5,128.83" fill="#fff" stroke="#fff" stroke-width="0.4"/>
<line x1="621.5" y1="138.64" x2="622.69" y2="137.75" stroke="#000" stroke-width="1.1" />
<polygon points="499.16,138.57 555.08,170.86 555.08,161.05 499.16,128.75" fill="#fff" stroke="#fff" stroke-width="0.4"/>
<line x1="499.16" y1="138.57" x2="555.08" y2="170.86" stroke="#000" stroke-width="1.1" />
<polygon points="565.7,170.86 621.5,138.64 621.5,128.83 565.7,161.05" fill="#fff" stroke="#fff" stroke-width="0.4"/>
<line x1="565.7" y1="170.86" x2="621.5" y2="138.64" stroke="#000" stroke-width="1.1" />
<polygon points="555.08,170.86 556.64,171.55 556.64,161.74 555.08,161.05" fill="#fff" stroke="#fff" stroke-width="0.4"/>
<line x1="555.08" y1="170.86" x2="556.64" y2="171.55" stroke="#000" stroke-width="1.1" />
<polygon points="564.14,171.55 565.7,170.86 565.7,161.05 564.14,161.74" fill="#fff" stroke="#fff" stroke-width="0.4"/>
<line x1="564.14" y1="171.55" x2="565.7" y2="170.86" stroke="#000" stroke-width="1.1" />
<polygon points="556.64,171.55 558.45,171.98 558.45,162.17 556.64,161.74" fill="#fff" stroke="#fff" stroke-width="0.4"/>
<line x1="556.64" y1="171.55" x2="558.45" y2="171.98" stroke="#000" stroke-width="1.1" />
<polygon points="562.33,171.98 564.14,171.55 564.14,161.74 562.33,162.17" fill="#fff" stroke="#fff" stroke-width="0.4"/>
<line x1="562.33" y1="171.98" x2="564.14" y2="171.55" stroke="#000" stroke-width="1.1" />
<polygon points="558.45,171.98 560.39,172.13 560.39,162.32 558.45,162.17" fill="#fff" stroke="#fff" stroke-width="0.4"/>
<line x1="558.45" y1="171.98" x2="560.39" y2="172.13" stroke="#000" stroke-width="1.1" />
<polygon points="560.39,172.13 562.33,171.98 562.33,162.17 560.39,162.32" fill="#fff" stroke="#fff" stroke-width="0.4"/>
<line x1="560.39" y1="172.13" x2="562.33" y2="171.98" stroke="#000" stroke-width="1.1" />
<polygon points="555.08,161.05 556.64,161.74 558.45,162.17 560.39,162.32 562.33,162.17 564.14,161.74 565.7,161.05 621.5,128.83 622.69,127.93 623.44,126.89 623.69,125.76 623.44,124.64 622.69,123.6 621.5,122.7 565.57,90.41 564.02,89.72 562.2,89.29 560.26,89.14 558.32,89.29 556.51,89.72 554.95,90.41 499.16,122.63 497.96,123.52 497.21,124.57 496.96,125.69 497.21,126.81 497.96,127.86 499.16,128.75" fill="#fff" stroke="#000" stroke-width="1.1" stroke-linejoin="round" />
<path d="M 610.51 120.63 L 610.51 125.76 A 5.68 3.28 0 0 0 621.86 125.76 L 621.86 120.63 Z" fill="#fff" stroke="#000" stroke-width="1.0"/>
<ellipse cx="616.19" cy="120.63" rx="5.68" ry="3.28" fill="#fff" stroke="#000" stroke-width="1.0"/>
<ellipse cx="616.19" cy="120.63" rx="3.85" ry="2.22" fill="none" stroke="#000" stroke-width="1.4"/>
<polygon points="618.2,120.63 617.2,121.64 615.18,121.64 614.17,120.63 615.18,119.62 617.2,119.62" fill="none" stroke="#000" stroke-width="0.7" stroke-linejoin="round" />
<path d="M 554.59 88.34 L 554.59 93.47 A 5.68 3.28 0 0 0 565.94 93.47 L 565.94 88.34 Z" fill="#fff" stroke="#000" stroke-width="1.0"/>
<ellipse cx="560.26" cy="88.34" rx="5.68" ry="3.28" fill="#fff" stroke="#000" stroke-width="1.0"/>
<ellipse cx="560.26" cy="88.34" rx="3.85" ry="2.22" fill="none" stroke="#000" stroke-width="1.4"/>
<polygon points="562.28,88.34 561.27,89.35 559.25,89.35 558.25,88.34 559.25,87.33 561.27,87.33" fill="none" stroke="#000" stroke-width="0.7" stroke-linejoin="round" />
<polygon points="599.75,130.16 599.82,116.77 599.82,78.26 599.75,91.65" fill="#fff" stroke="#fff" stroke-width="0.4"/>
<line x1="599.75" y1="130.16" x2="599.82" y2="116.77" stroke="#000" stroke-width="0.9" />
<line x1="599.75" y1="93.01" x2="599.82" y2="79.62" stroke="#000" stroke-width="0.6" />
<line x1="599.82" y1="116.77" x2="599.82" y2="78.26" stroke="#000" stroke-width="0.9" />
<polygon points="598.19,136.5 599.75,130.16 599.75,91.65 598.19,98" fill="#fff" stroke="#fff" stroke-width="0.4"/>
<line x1="598.19" y1="136.5" x2="599.75" y2="130.16" stroke="#000" stroke-width="0.9" />
<line x1="598.19" y1="99.36" x2="599.75" y2="93.01" stroke="#000" stroke-width="0.6" />
<line x1="598.19" y1="136.5" x2="598.19" y2="98" stroke="#000" stroke-width="0.9" />
<polygon points="596.93,137.89 598.19,136.5 598.19,98 596.93,99.38" fill="#fff" stroke="#fff" stroke-width="0.4"/>
<line x1="596.93" y1="137.89" x2="598.19" y2="136.5" stroke="#000" stroke-width="0.9" />
<line x1="596.93" y1="100.74" x2="598.19" y2="99.36" stroke="#000" stroke-width="0.6" />
<line x1="596.93" y1="137.89" x2="596.93" y2="99.38" stroke="#000" stroke-width="0.9" />
<line x1="598.19" y1="136.5" x2="598.19" y2="98" stroke="#000" stroke-width="0.9" />
<polygon points="581.77,146.64 596.93,137.89 596.93,99.38 581.77,108.13" fill="#fff" stroke="#fff" stroke-width="0.4"/>
<line x1="581.77" y1="146.64" x2="596.93" y2="137.89" stroke="#000" stroke-width="0.9" />
<line x1="581.77" y1="109.49" x2="596.93" y2="100.74" stroke="#000" stroke-width="0.6" />
<line x1="581.77" y1="146.64" x2="581.77" y2="108.13" stroke="#000" stroke-width="0.9" />
<line x1="596.93" y1="137.89" x2="596.93" y2="99.38" stroke="#000" stroke-width="0.9" />
<polygon points="579.45,147.33 581.77,146.64 581.77,108.13 579.45,108.82" fill="#fff" stroke="#fff" stroke-width="0.4"/>
<line x1="579.45" y1="147.33" x2="581.77" y2="146.64" stroke="#000" stroke-width="0.9" />
<line x1="579.45" y1="110.18" x2="581.77" y2="109.49" stroke="#000" stroke-width="0.6" />
<line x1="579.45" y1="147.33" x2="579.45" y2="108.82" stroke="#000" stroke-width="0.9" />
<line x1="581.77" y1="146.64" x2="581.77" y2="108.13" stroke="#000" stroke-width="0.9" />
<polygon points="560.98,148.39 579.45,147.33 579.45,108.82 560.98,109.88" fill="#fff" stroke="#fff" stroke-width="0.4"/>
<line x1="560.98" y1="148.39" x2="579.45" y2="147.33" stroke="#000" stroke-width="0.9" />
<line x1="560.98" y1="111.24" x2="579.45" y2="110.18" stroke="#000" stroke-width="0.6" />
<line x1="560.98" y1="148.39" x2="560.98" y2="109.88" stroke="#000" stroke-width="0.9" />
<line x1="579.45" y1="147.33" x2="579.45" y2="108.82" stroke="#000" stroke-width="0.9" />
<polygon points="557.32,148.63 560.98,148.39 560.98,109.88 557.32,110.12" fill="#fff" stroke="#fff" stroke-width="0.4"/>
<line x1="557.32" y1="148.63" x2="560.98" y2="148.39" stroke="#000" stroke-width="0.9" />
<line x1="557.32" y1="111.48" x2="560.98" y2="111.24" stroke="#000" stroke-width="0.6" />
<line x1="557.32" y1="148.63" x2="557.32" y2="110.12" stroke="#000" stroke-width="0.9" />
<line x1="560.98" y1="148.39" x2="560.98" y2="109.88" stroke="#000" stroke-width="0.9" />
<polygon points="553.34,149.06 557.32,148.63 557.32,110.12 553.34,110.55" fill="#fff" stroke="#fff" stroke-width="0.4"/>
<line x1="553.34" y1="149.06" x2="557.32" y2="148.63" stroke="#000" stroke-width="0.9" />
<line x1="553.34" y1="111.91" x2="557.32" y2="111.48" stroke="#000" stroke-width="0.6" />
<line x1="553.34" y1="149.06" x2="553.34" y2="110.55" stroke="#000" stroke-width="0.9" />
<line x1="557.32" y1="148.63" x2="557.32" y2="110.12" stroke="#000" stroke-width="0.9" />
<polygon points="549.36,149.48 553.34,149.06 553.34,110.55 549.36,110.98" fill="#fff" stroke="#fff" stroke-width="0.4"/>
<line x1="549.36" y1="149.48" x2="553.34" y2="149.06" stroke="#000" stroke-width="0.9" />
<line x1="549.36" y1="112.34" x2="553.34" y2="111.91" stroke="#000" stroke-width="0.6" />
<line x1="553.34" y1="149.06" x2="553.34" y2="110.55" stroke="#000" stroke-width="0.9" />
<polygon points="544.85,150.95 549.36,149.48 549.36,110.98 544.85,112.44" fill="#fff" stroke="#fff" stroke-width="0.4"/>
<line x1="544.85" y1="150.95" x2="549.36" y2="149.48" stroke="#000" stroke-width="0.9" />
<line x1="544.85" y1="113.8" x2="549.36" y2="112.34" stroke="#000" stroke-width="0.6" />
<polygon points="542.17,152.66 544.85,150.95 544.85,112.44 542.17,114.15" fill="#fff" stroke="#fff" stroke-width="0.4"/>
<line x1="542.17" y1="152.66" x2="544.85" y2="150.95" stroke="#000" stroke-width="0.9" />
<line x1="542.17" y1="115.51" x2="544.85" y2="113.8" stroke="#000" stroke-width="0.6" />
<polygon points="540.97,155.22 542.17,152.66 542.17,114.15 540.97,116.72" fill="#fff" stroke="#fff" stroke-width="0.4"/>
<line x1="540.97" y1="155.22" x2="542.17" y2="152.66" stroke="#000" stroke-width="0.9" />
<line x1="540.97" y1="118.08" x2="542.17" y2="115.51" stroke="#000" stroke-width="0.6" />
<line x1="540.97" y1="155.22" x2="540.97" y2="116.72" stroke="#000" stroke-width="0.9" />
<polygon points="490.44,143.54 529.91,166.33 529.91,127.83 490.44,105.04" fill="#fff" stroke="#fff" stroke-width="0.4"/>
<line x1="490.44" y1="143.54" x2="529.91" y2="166.33" stroke="#000" stroke-width="0.9" />
<line x1="490.44" y1="106.4" x2="529.91" y2="129.18" stroke="#000" stroke-width="0.6" />
<line x1="490.44" y1="143.54" x2="490.44" y2="105.04" stroke="#000" stroke-width="0.9" />
<polygon points="540.48,160.23 540.97,158.48 540.97,119.97 540.48,121.72" fill="#fff" stroke="#fff" stroke-width="0.4"/>
<line x1="540.48" y1="160.23" x2="540.97" y2="158.48" stroke="#000" stroke-width="0.9" />
<line x1="540.48" y1="123.08" x2="540.97" y2="121.33" stroke="#000" stroke-width="0.6" />
<line x1="540.97" y1="158.48" x2="540.97" y2="119.97" stroke="#000" stroke-width="0.9" />
<polygon points="529.91,166.33 540.48,160.23 540.48,121.72 529.91,127.83" fill="#fff" stroke="#fff" stroke-width="0.4"/>
<line x1="529.91" y1="166.33" x2="540.48" y2="160.23" stroke="#000" stroke-width="0.9" />
<line x1="529.91" y1="129.18" x2="540.48" y2="123.08" stroke="#000" stroke-width="0.6" />
<polygon points="529.91,127.83 540.48,121.72 540.97,119.97 540.97,116.72 542.17,114.15 544.85,112.44 549.36,110.98 553.34,110.55 557.32,110.12 560.98,109.88 579.45,108.82 581.77,108.13 596.93,99.38 598.19,98 599.75,91.65 599.82,78.26 599.04,76.68 579.03,65.12 576.28,64.67 553.09,64.71 542.1,65.61 539.7,66.34 524.55,75.09 523.35,76.43 521.52,87.09 521.1,89.21 520.36,91.51 519.62,93.81 517.08,96.41 514.12,97.96 509.68,98.65 504.04,98.65 501.01,98.93 490.44,105.04" fill="#fff" stroke="#000" stroke-width="1.2" stroke-linejoin="round" />
<path d="M 498.79 120.56 L 498.79 125.69 A 5.68 3.28 0 0 0 510.14 125.69 L 510.14 120.56 Z" fill="#fff" stroke="#000" stroke-width="1.0"/>
<ellipse cx="504.46" cy="120.56" rx="5.68" ry="3.28" fill="#fff" stroke="#000" stroke-width="1.0"/>
<ellipse cx="504.46" cy="120.56" rx="3.85" ry="2.22" fill="none" stroke="#000" stroke-width="1.4"/>
<polygon points="506.48,120.56 505.47,121.56 503.46,121.56 502.45,120.56 503.46,119.55 505.47,119.55" fill="none" stroke="#000" stroke-width="0.7" stroke-linejoin="round" />
<path d="M 554.72 152.85 L 554.72 157.98 A 5.68 3.28 0 0 0 566.07 157.98 L 566.07 152.85 Z" fill="#fff" stroke="#000" stroke-width="1.0"/>
<ellipse cx="560.39" cy="152.85" rx="5.68" ry="3.28" fill="#fff" stroke="#000" stroke-width="1.0"/>
<ellipse cx="560.39" cy="152.85" rx="3.85" ry="2.22" fill="none" stroke="#000" stroke-width="1.4"/>
<polygon points="562.41,152.85 561.4,153.85 559.38,153.85 558.38,152.85 559.38,151.84 561.4,151.84" fill="none" stroke="#000" stroke-width="0.7" stroke-linejoin="round" />
<polygon points="486.73,106.53 525.57,128.96 529.97,126.42 491.13,103.99" fill="#fff" stroke="#000" stroke-width="1.0" stroke-linejoin="round" />
<polygon points="486.73,151.83 525.57,174.26 525.57,128.96 486.73,106.53" fill="#fff" stroke="#000" stroke-width="1.0" stroke-linejoin="round" />
<polygon points="525.57,174.26 529.97,171.72 529.97,126.42 525.57,128.96" fill="#fff" stroke="#000" stroke-width="1.0" stroke-linejoin="round" />
<ellipse cx="0" cy="0" rx="1" ry="1" transform="matrix(2.85,1.64,0,-3.32,490.74,114.74)" fill="#000" stroke="#000" stroke-width="0" vector-effect="non-scaling-stroke" />
<ellipse cx="0" cy="0" rx="1" ry="1" transform="matrix(1.55,0.9,0,-1.81,489.19,114.59)" fill="#333" stroke="#000" stroke-width="0" vector-effect="non-scaling-stroke" />
<ellipse cx="0" cy="0" rx="1" ry="1" transform="matrix(2.85,1.64,0,-3.32,520.78,132.08)" fill="#000" stroke="#000" stroke-width="0" vector-effect="non-scaling-stroke" />
<ellipse cx="0" cy="0" rx="1" ry="1" transform="matrix(1.55,0.9,0,-1.81,519.22,131.93)" fill="#333" stroke="#000" stroke-width="0" vector-effect="non-scaling-stroke" />
<ellipse cx="0" cy="0" rx="1" ry="1" transform="matrix(2.85,1.64,0,-3.32,490.74,149.17)" fill="#000" stroke="#000" stroke-width="0" vector-effect="non-scaling-stroke" />
<ellipse cx="0" cy="0" rx="1" ry="1" transform="matrix(1.55,0.9,0,-1.81,489.19,149.01)" fill="#333" stroke="#000" stroke-width="0" vector-effect="non-scaling-stroke" />
<ellipse cx="0" cy="0" rx="1" ry="1" transform="matrix(2.85,1.64,0,-3.32,520.78,166.51)" fill="#000" stroke="#000" stroke-width="0" vector-effect="non-scaling-stroke" />
<ellipse cx="0" cy="0" rx="1" ry="1" transform="matrix(1.55,0.9,0,-1.81,519.22,166.36)" fill="#333" stroke="#000" stroke-width="0" vector-effect="non-scaling-stroke" />
<polygon points="475.66,141.04 475.7,139.87 475.8,138.75 475.98,137.69 476.22,136.68 476.54,135.73 476.92,134.85 477.36,134.04 477.87,133.31 478.44,132.66 479.07,132.08 479.75,131.6 498.39,120.83 499.12,120.43 499.9,120.12 500.72,119.9 501.58,119.76 502.48,119.73 503.41,119.78 504.37,119.93 505.34,120.16 506.34,120.49 507.34,120.91 508.36,121.41 509.37,122 510.39,122.67 511.4,123.41 512.39,124.23 513.37,125.12 514.32,126.08 515.25,127.1 516.15,128.17 517.01,129.3 517.83,130.47 518.61,131.68 519.34,132.93 520.02,134.2 520.65,135.5 521.22,136.81 521.73,138.13 522.17,139.45 522.55,140.77 522.87,142.08 523.11,143.37 523.29,144.64 523.39,145.88 523.43,147.09 523.39,148.25 523.29,149.37 523.11,150.44 522.87,151.45 522.55,152.39 522.17,153.27 521.73,154.08 521.22,154.81 520.65,155.47 520.02,156.04 519.34,156.53 500.7,167.29 499.97,167.7 499.19,168.01 498.37,168.23 497.51,168.36 496.61,168.4 495.68,168.35 494.72,168.2 493.75,167.96 492.75,167.63 491.75,167.22 490.73,166.72 489.72,166.13 488.7,165.46 487.69,164.71 486.7,163.89 485.72,163 484.77,162.05 483.84,161.03 482.94,159.95 482.08,158.83 481.26,157.65 480.48,156.44 479.75,155.2 479.07,153.92 478.44,152.63 477.87,151.32 477.36,150 476.92,148.67 476.54,147.35 476.22,146.04 475.98,144.75 475.8,143.48 475.7,142.24" fill="url(#knurl)" stroke="#000" stroke-width="1.0" stroke-linejoin="round" />
<ellipse cx="0" cy="0" rx="1" ry="1" transform="matrix(14.56,8.41,0,-16.99,490.22,149.44)" fill="none" stroke="#000" stroke-width="1.0" vector-effect="non-scaling-stroke" />
<ellipse cx="0" cy="0" rx="1" ry="1" transform="matrix(14.11,8.15,0,-16.46,488.15,150.64)" fill="#fff" stroke="#000" stroke-width="1.8" vector-effect="non-scaling-stroke" />
<ellipse cx="0" cy="0" rx="1" ry="1" transform="matrix(12.82,7.4,0,-14.95,488.15,150.64)" fill="none" stroke="#000" stroke-width="0.7" vector-effect="non-scaling-stroke" />
<line x1="483.36" y1="144.24" x2="488.02" y2="141.55" stroke="#000" stroke-width="1.6" />
<line x1="483.36" y1="153.3" x2="488.02" y2="150.61" stroke="#000" stroke-width="1.6" />
<line x1="491.39" y1="153.41" x2="496.05" y2="150.72" stroke="#000" stroke-width="1.6" />
<polygon points="469.12,160.41 545.76,204.67 545.76,231.39 469.12,187.14" fill="#fff" stroke="#000" stroke-width="1.1" stroke-linejoin="round" stroke-linejoin="round"/>
<text x="0" y="0" font-size="4.2" font-weight="bold" text-anchor="middle" fill="#000" stroke="#000" stroke-width="0.6" transform="matrix(0.866,0.5,0,1,507.05,184.28)">Star Hydraulics Ltd</text>
<text x="0" y="0" font-size="4.2" font-weight="bold" text-anchor="middle" fill="#000" stroke="#000" stroke-width="0.6" transform="matrix(0.866,0.5,0,1,508.61,191.06)">Tel.: +44 (0)1684 299179</text>
<text x="0" y="0" font-size="4.2" font-weight="bold" text-anchor="middle" fill="#000" stroke="#000" stroke-width="0.6" transform="matrix(0.866,0.5,0,1,482.46,187.14)">Model No.</text>
<text x="0" y="0" font-size="4.2" font-weight="bold" text-anchor="middle" fill="#000" stroke="#000" stroke-width="0.6" transform="matrix(0.866,0.5,0,1,506.41,201.42)">Serial No.</text>
<text x="0" y="0" font-size="4.2" font-weight="bold" text-anchor="middle" fill="#000" stroke="#000" stroke-width="0.6" transform="matrix(0.866,0.5,0,1,532.43,215.54)">Identification</text>
<text x="0" y="0" font-size="4" font-weight="bold" text-anchor="middle" fill="#000" stroke="#000" stroke-width="0.6" transform="matrix(0.866,0.5,0,1,507.83,218.1)">P</text>
<ellipse cx="0" cy="0" rx="1" ry="1" transform="matrix(5.57,-3.21,0,-6.49,604.02,189.8)" fill="#fff" stroke="#000" stroke-width="1.9" vector-effect="non-scaling-stroke" />
<ellipse cx="0" cy="0" rx="1" ry="1" transform="matrix(4.34,-2.51,0,-5.06,604.02,189.8)" fill="none" stroke="#000" stroke-width="0.6" vector-effect="non-scaling-stroke" />
<polygon points="606.8,188.19 605.41,186.18 602.63,187.79 601.24,191.4 602.63,193.41 605.41,191.8" fill="none" stroke="#000" stroke-width="1.0" stroke-linejoin="round" />
<ellipse cx="0" cy="0" rx="1" ry="1" transform="matrix(5.57,-3.21,0,-6.49,637.42,170.51)" fill="#fff" stroke="#000" stroke-width="1.9" vector-effect="non-scaling-stroke" />
<ellipse cx="0" cy="0" rx="1" ry="1" transform="matrix(4.34,-2.51,0,-5.06,637.42,170.51)" fill="none" stroke="#000" stroke-width="0.6" vector-effect="non-scaling-stroke" />
<polygon points="640.2,168.9 638.81,166.9 636.03,168.5 634.64,172.12 636.03,174.13 638.81,172.52" fill="none" stroke="#000" stroke-width="1.0" stroke-linejoin="round" />
<ellipse cx="0" cy="0" rx="1" ry="1" transform="matrix(5.57,-3.21,0,-6.49,588.61,238.1)" fill="#fff" stroke="#000" stroke-width="1.9" vector-effect="non-scaling-stroke" />
<ellipse cx="0" cy="0" rx="1" ry="1" transform="matrix(4.34,-2.51,0,-5.06,588.61,238.1)" fill="none" stroke="#000" stroke-width="0.6" vector-effect="non-scaling-stroke" />
<polygon points="591.4,236.5 590.01,234.49 587.22,236.09 585.83,239.71 587.22,241.72 590.01,240.11" fill="none" stroke="#000" stroke-width="1.0" stroke-linejoin="round" />
<ellipse cx="0" cy="0" rx="1" ry="1" transform="matrix(5.57,-3.21,0,-6.49,652.83,201.03)" fill="#fff" stroke="#000" stroke-width="1.9" vector-effect="non-scaling-stroke" />
<ellipse cx="0" cy="0" rx="1" ry="1" transform="matrix(4.34,-2.51,0,-5.06,652.83,201.03)" fill="none" stroke="#000" stroke-width="0.6" vector-effect="non-scaling-stroke" />
<polygon points="655.61,199.42 654.22,197.41 651.43,199.02 650.04,202.63 651.43,204.64 654.22,203.03" fill="none" stroke="#000" stroke-width="1.0" stroke-linejoin="round" />
<text x="0" y="0" font-size="9.7" text-anchor="start" font-weight="normal" fill="#000" transform="translate(489.8 671.4)"  textLength="177.8" lengthAdjust="spacingAndGlyphs" stroke="#000" stroke-width="0.15">SUGGESTED MOUNTING BOLTS M8 X 60</text>
<text x="0" y="0" font-size="9.7" text-anchor="start" font-weight="normal" fill="#000" transform="translate(489.8 680.43)"  textLength="162" lengthAdjust="spacingAndGlyphs" stroke="#000" stroke-width="0.15">LONG HIGH TENSILE STEEL SOCKET</text>
<text x="0" y="0" font-size="9.7" text-anchor="start" font-weight="normal" fill="#000" transform="translate(489.8 689.46)"  textLength="88.4" lengthAdjust="spacingAndGlyphs" stroke="#000" stroke-width="0.15">HEAD CAP SCREWS.</text>
<text x="0" y="0" font-size="9.7" text-anchor="start" font-weight="normal" fill="#000" transform="translate(489.8 707.52)"  textLength="181.6" lengthAdjust="spacingAndGlyphs" stroke="#000" stroke-width="0.15">4-WAY ELECTRICAL CONNECTOR MATES</text>
<text x="0" y="0" font-size="9.7" text-anchor="start" font-weight="normal" fill="#000" transform="translate(489.8 716.55)"  textLength="180.7" lengthAdjust="spacingAndGlyphs" stroke="#000" stroke-width="0.15">WITH MS3106-14S-2S OR EQUIVALENT. IS</text>
<text x="0" y="0" font-size="9.7" text-anchor="start" font-weight="normal" fill="#000" transform="translate(489.8 725.58)"  textLength="188.2" lengthAdjust="spacingAndGlyphs" stroke="#000" stroke-width="0.15">AVAILABLE AT ±90° AND 180° TO POSITION</text>
<text x="0" y="0" font-size="9.7" text-anchor="start" font-weight="normal" fill="#000" transform="translate(489.8 734.61)"  textLength="177.8" lengthAdjust="spacingAndGlyphs" stroke="#000" stroke-width="0.15">SHOWN. ADVISE PREFERRED POSITION</text>
<text x="0" y="0" font-size="9.7" text-anchor="start" font-weight="normal" fill="#000" transform="translate(489.8 743.64)"  textLength="88.4" lengthAdjust="spacingAndGlyphs" stroke="#000" stroke-width="0.15">AT TIME OF ORDER.</text>
<text x="0" y="0" font-size="9.7" text-anchor="start" font-weight="normal" fill="#000" transform="translate(489.8 761.7)"  textLength="184.3" lengthAdjust="spacingAndGlyphs" stroke="#000" stroke-width="0.15">REPLACEMENT BASE O-RINGS 10.82 I/D X</text>
<text x="0" y="0" font-size="9.7" text-anchor="start" font-weight="normal" fill="#000" transform="translate(489.8 770.73)"  textLength="130.1" lengthAdjust="spacingAndGlyphs" stroke="#000" stroke-width="0.15">1.78 SECTION (200-013-XXXX).</text>
<text x="0" y="0" font-size="9.7" text-anchor="start" font-weight="normal" fill="#000" transform="translate(489.8 788.79)"  textLength="165.8" lengthAdjust="spacingAndGlyphs" stroke="#000" stroke-width="0.15">NULL ADJUST REQUIRES 10 A/F RING</text>
<text x="0" y="0" font-size="9.7" text-anchor="start" font-weight="normal" fill="#000" transform="translate(489.8 797.82)"  textLength="175.4" lengthAdjust="spacingAndGlyphs" stroke="#000" stroke-width="0.15">SPANNER AND 2.5 HEX KEY. FLOW OUT</text>
<text x="0" y="0" font-size="9.7" text-anchor="start" font-weight="normal" fill="#000" transform="translate(489.8 806.85)"  textLength="182.2" lengthAdjust="spacingAndGlyphs" stroke="#000" stroke-width="0.15">OF C2 WILL INCREASE WITH CLOCKWISE</text>
<text x="0" y="0" font-size="9.7" text-anchor="start" font-weight="normal" fill="#000" transform="translate(489.8 815.88)"  textLength="48.2" lengthAdjust="spacingAndGlyphs" stroke="#000" stroke-width="0.15">ROTATION.</text>
<text x="0" y="0" font-size="9.7" text-anchor="start" font-weight="normal" fill="#000" transform="translate(489.8 833.94)"  textLength="183.1" lengthAdjust="spacingAndGlyphs" stroke="#000" stroke-width="0.15">SURFACE TO WHICH VALVE IS MOUNTED</text>
<text x="0" y="0" font-size="9.7" text-anchor="start" font-weight="normal" fill="#000" transform="translate(489.8 842.97)"  textLength="156.9" lengthAdjust="spacingAndGlyphs" stroke="#000" stroke-width="0.15">REQUIRES 0.8 MICRONS (32 MICRO</text>
<text x="0" y="0" font-size="9.7" text-anchor="start" font-weight="normal" fill="#000" transform="translate(489.8 852)"  textLength="176.3" lengthAdjust="spacingAndGlyphs" stroke="#000" stroke-width="0.15">INCHES) FINISH AND FLAT WITHIN 0.025</text>
<text x="0" y="0" font-size="9.7" text-anchor="start" font-weight="normal" fill="#000" transform="translate(489.8 861.03)"  textLength="34.9" lengthAdjust="spacingAndGlyphs" stroke="#000" stroke-width="0.15">(0.001").</text>
</svg></body></html>
